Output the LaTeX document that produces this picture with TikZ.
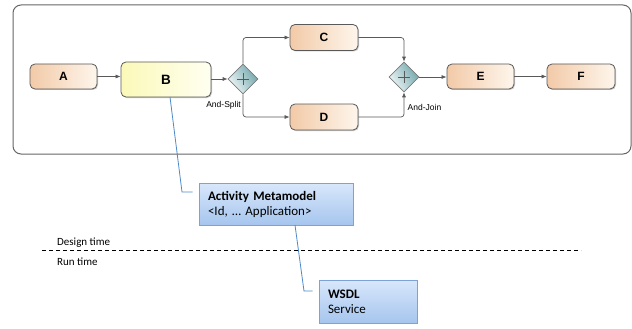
\documentclass[tikz,border=0pt]{standalone}
\usepackage{fontspec}
\setmainfont{Liberation Sans}
\newfontfamily\calib{Carlito}
\usetikzlibrary{shapes.geometric,arrows.meta,shadows,calc}

\definecolor{peachL}{HTML}{F2CAA8}
\definecolor{peachR}{HTML}{FEF6EC}
\definecolor{yelL}{HTML}{FBF9B8}
\definecolor{yelR}{HTML}{FFFFF2}
\definecolor{gateD}{HTML}{6FA5AB}
\definecolor{gateL}{HTML}{F2F8F8}
\definecolor{noteT}{HTML}{D8E7FB}
\definecolor{noteB}{HTML}{A6C5EE}
\definecolor{noteE}{HTML}{7BA3D6}
\definecolor{linkB}{HTML}{4D8AC9}
\definecolor{flowC}{HTML}{595959}

\tikzset{
  x=1pt, y=-1pt,
  task/.style={rectangle, rounded corners=5pt, draw=flowC, line width=0.8pt,
    left color=peachL, right color=peachR,
    minimum width=67pt, minimum height=25pt, inner sep=0pt,
    font=\fontsize{12}{14}\selectfont\bfseries,
    drop shadow={shadow xshift=1pt, shadow yshift=-1pt, opacity=0.35, fill=black!60}},
  gate/.style={diamond, draw=flowC!80, line width=0.6pt,
    left color=gateD, right color=gateL, shading angle=-60,
    minimum width=30pt, minimum height=30pt, inner sep=0pt,
    path picture={\draw[flowC, line width=0.5pt]
      ($(path picture bounding box.center)+(-6,0)$) -- ($(path picture bounding box.center)+(6,0)$)
      ($(path picture bounding box.center)+(0,-6)$) -- ($(path picture bounding box.center)+(0,6)$);}},
  flow/.style={draw=flowC, line width=0.7pt, rounded corners=3pt,
    -{Latex[length=5pt,width=4pt]}},
  gatelbl/.style={font=\fontsize{8.5}{10}\selectfont, inner sep=0pt},
  note/.style={rectangle, draw=noteE, line width=0.8pt,
    top color=noteT, bottom color=noteB, inner ysep=0pt, inner xsep=9pt,
    align=left, font=\calib\fontsize{13}{16}\selectfont,
    drop shadow={shadow xshift=1.2pt, shadow yshift=-1.2pt, opacity=0.35, fill=black!60}},
  link/.style={draw=linkB, line width=0.8pt},
  phase/.style={font=\calib\fontsize{11}{13}\selectfont, inner sep=0pt, anchor=west}
}

\begin{document}
\begin{tikzpicture}
\useasboundingbox (0,0) rectangle (632,329);

% process frame
\draw[draw=black!60, line width=1pt, rounded corners=8pt, fill=white] (13,5) rectangle (631,154);

% tasks
\node[task] (A) at (63.5,76.5) {A};
\node[task, left color=yelL, right color=yelR, minimum width=90pt, minimum height=35pt,
  font=\fontsize{13.5}{15}\selectfont\bfseries] (B) at (166,79.5) {B};
\node[task, minimum width=68pt, minimum height=26pt] (C) at (324,37.5) {C};
\node[task, minimum width=68pt, minimum height=26pt] (D) at (324,117) {D};
\node[task] (E) at (480.5,76.5) {E};
\node[task, minimum width=68pt] (F) at (581,76.5) {F};

% gateways
\node[gate] (split) at (243,79) {};
\node[gate] (join) at (404,77) {};

\node[gatelbl, anchor=east] (splitlbl) at (241,105) {And-Split};
\node[gatelbl, anchor=west] (joinlbl) at (407.5,107) {And-Join};

% sequence flows
\draw[flow] (A.east) -- (B.west |- A.east);
\draw[flow] (B.east |- split.west) -- (split.west);
\draw[flow] (split.north) |- (C.west);
\draw[flow] (split.south) |- (D.west);
\draw[flow] (C.east) -| (join.north);
\draw[flow] (D.east) -| (join.south);
\draw[flow] (join.east) -- (E.west |- join.east);
\draw[flow] (E.east) -- (F.west);

% annotations
\node[note, text width=136pt, minimum height=42pt] (meta) at (276,204)
  {\textbf{Activity Metamodel}\\[-1pt]<Id, … Application>};
\node[note, text width=80pt, minimum height=43pt] (wsdl) at (368,301.5)
  {\textbf{WSDL}\\[-1pt]Service};

\coordinate (bfoot) at (170,97);
\coordinate (mfoot) at (295,225);
\draw[link] (bfoot) -- (182,192) -- ($(meta.west)+(-6,-12)$);
\draw[link] (mfoot) -- (304,291) -- ($(wsdl.west)+(-6,-10.5)$);

% design/run time boundary
\draw[black, line width=0.8pt, dash pattern=on 4pt off 3pt] (42,250) coordinate (dl) -- (581,250) coordinate (dr);
\node[phase] (design) at (57,243) {Design time};
\node[phase] (run) at (57,262) {Run time};
\end{tikzpicture}
\end{document}
